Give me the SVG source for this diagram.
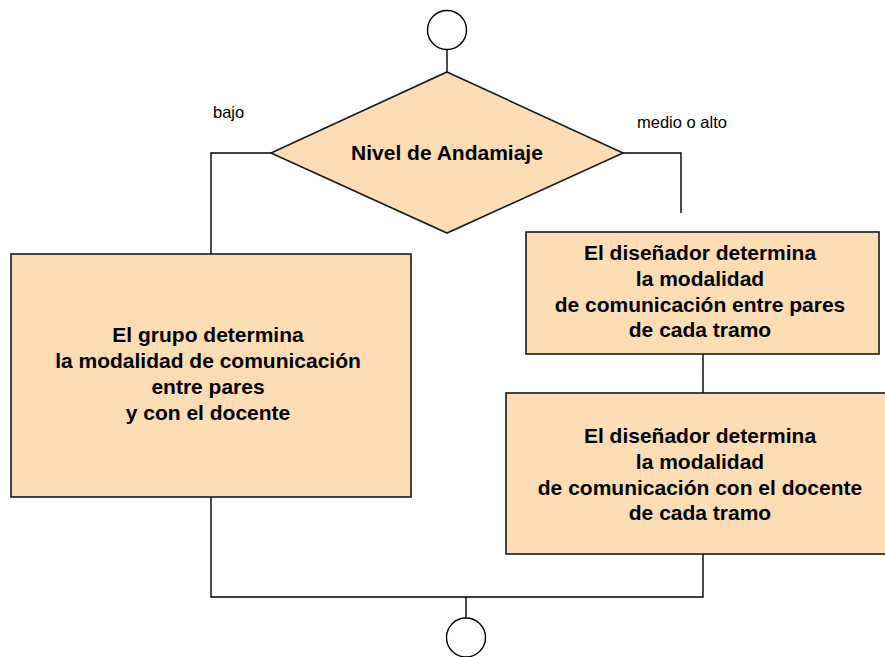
<svg xmlns="http://www.w3.org/2000/svg" width="885" height="657" viewBox="0 0 885 657">
<style>
.bg{fill:#ffffff}
.box{fill:#FCDDB4;stroke:#1a1a1a;stroke-width:1.6}
.term{fill:#ffffff;stroke:#000000;stroke-width:1.4}
.line{fill:none;stroke:#000000;stroke-width:1.4}
.t{font-family:"Liberation Sans",Arial,sans-serif;font-weight:bold;font-size:21px;fill:#000000;text-anchor:middle}
.lbl{font-family:"Liberation Sans",Arial,sans-serif;font-size:16.5px;fill:#000000}
</style>
<rect class="bg" x="0" y="0" width="885" height="657"/>
<g id="connectors">
<line class="line" x1="447" y1="50" x2="447" y2="72"/>
<polyline class="line" points="271,153 211,153 211,254"/>
<polyline class="line" points="623,153 681,153 681,213"/>
<line class="line" x1="703" y1="354" x2="703" y2="393"/>
<polyline class="line" points="211,497 211,597 703,597 703,554"/>
<line class="line" x1="466" y1="597" x2="466" y2="618"/>
<text class="lbl" x="213" y="118">bajo</text>
<text class="lbl" x="637" y="128">medio o alto</text>
</g>
<g id="start">
<circle class="term" cx="447" cy="30" r="19.5"/>
</g>
<g id="decision">
<polygon class="box" points="447,72 623,153 447,233 271,153"/>
<text class="t" x="447" y="160">Nivel de Andamiaje</text>
</g>
<g id="grupo">
<rect class="box" x="11" y="254" width="400" height="243"/>
<text class="t" x="208" y="342">El grupo determina</text>
<text class="t" x="208" y="368">la modalidad de comunicación</text>
<text class="t" x="208" y="394">entre pares</text>
<text class="t" x="208" y="420">y con el docente</text>
</g>
<g id="disenador-pares">
<rect class="box" x="526" y="232" width="353" height="122"/>
<text class="t" x="700" y="260">El diseñador determina</text>
<text class="t" x="700" y="286">la modalidad</text>
<text class="t" x="700" y="312">de comunicación entre pares</text>
<text class="t" x="700" y="337">de cada tramo</text>
</g>
<g id="disenador-docente">
<rect class="box" x="506" y="393" width="390" height="161"/>
<text class="t" x="700" y="443">El diseñador determina</text>
<text class="t" x="700" y="469">la modalidad</text>
<text class="t" x="700" y="495">de comunicación con el docente</text>
<text class="t" x="700" y="520">de cada tramo</text>
</g>
<g id="end">
<circle class="term" cx="466" cy="637.5" r="19.5"/>
</g>
</svg>
